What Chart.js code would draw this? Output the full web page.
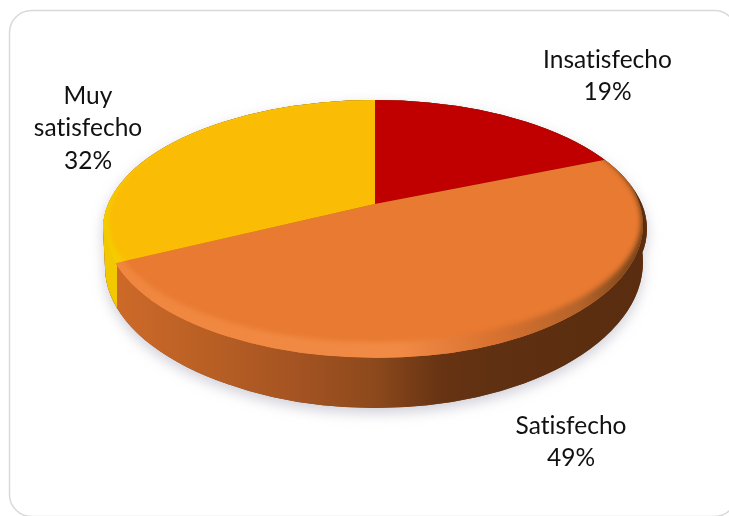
<!DOCTYPE html>
<html><head><meta charset="utf-8">
<script src="https://cdn.jsdelivr.net/npm/chart.js@4"></script>
<style>
html,body{margin:0;padding:0;background:#fff;overflow:hidden}
canvas{display:block}
</style></head>
<body><canvas id="c" width="729" height="516"></canvas>
<script>
const categories = ["Insatisfecho", "Satisfecho", "Muy satisfecho"];
const values = [19, 49, 32];
const sliceColors = ["#c00000", "#e97a31", "#fbbc05"];
const labelLines = [["Insatisfecho"], ["Satisfecho"], ["Muy", "satisfecho"]];

const TILT = 0.485;                                   // vertical squash of the pie plane
const FACE = {x: 375, y: 229, rx: 272, ry: 129};      // visible top face
const TRIM_R = {x: 368, y: 225, rx: 275, ry: 135};    // perspective trim, lower right
const TRIM_L = {x: 378, y: 229, rx: 272, ry: 129};    // perspective trim, lower left
const INNER = {x: 375, y: 221, rx: 266, ry: 121};     // flat part inside the bevel
const BASE = {x: 375, y: 262, rx: 268, ry: 146};      // bottom edge of the side wall
const BASE_L = {x: 382, y: 267, rx: 277, ry: 141};    // bottom edge, left half
const LABEL_POS = [{x: 607.5, y: 68}, {x: 571, y: 434}, {x: 88, y: 104}];
const LINE_H = 32.3;

function ell(ctx, e) { ctx.ellipse(e.x, e.y, e.rx, e.ry, 0, 0, Math.PI * 2); }
function clipFace(ctx) {
  ctx.beginPath(); ell(ctx, FACE); ctx.clip();
  ctx.beginPath(); ell(ctx, TRIM_R); ctx.rect(0, 0, 368, 516); ctx.clip();
  ctx.beginPath(); ell(ctx, TRIM_L); ctx.rect(0, 0, 729, 229); ctx.rect(378, 0, 351, 516); ctx.clip();
}
function wallPath() {
  const p = new Path2D();
  p.ellipse(BASE.x, BASE.y, BASE.rx, BASE.ry, 0, 0, Math.PI * 2);
  p.ellipse(FACE.x, FACE.y, FACE.rx, FACE.ry, 0, 0, Math.PI * 2);
  const left = new Path2D();
  left.ellipse(BASE_L.x, BASE_L.y, BASE_L.rx, BASE_L.ry, 0, Math.PI / 2, Math.PI);
  left.lineTo(FACE.x - FACE.rx, FACE.y);
  left.lineTo(BASE_L.x, FACE.y);
  left.closePath();
  p.addPath(left);
  return p;
}

function rayX(arcEl, angle) {
  // where a slice boundary meets the visible face
  const dx = Math.cos(angle), dy = TILT * Math.sin(angle);
  const ox = arcEl.x - FACE.x, oy = arcEl.y - FACE.y;
  const a = dx*dx/(FACE.rx*FACE.rx) + dy*dy/(FACE.ry*FACE.ry);
  const b = 2*(ox*dx/(FACE.rx*FACE.rx) + oy*dy/(FACE.ry*FACE.ry));
  const c = ox*ox/(FACE.rx*FACE.rx) + oy*oy/(FACE.ry*FACE.ry) - 1;
  const t = (-b + Math.sqrt(b*b - 4*a*c)) / (2*a);
  return arcEl.x + t*dx;
}

const framePlugin = {
  id: 'frame',
  beforeDraw(chart) {
    const ctx = chart.ctx;
    ctx.save();
    ctx.fillStyle = '#fff';
    ctx.fillRect(0, 0, 729, 516);
    ctx.beginPath();
    ctx.roundRect(9.5, 10.5, 727, 506, 22);
    ctx.strokeStyle = '#d9d9d9';
    ctx.lineWidth = 1.5;
    ctx.stroke();
    ctx.restore();
  }
};

const pie3d = {
  id: 'pie3d',
  beforeDatasetDraw(chart) {
    const ctx = chart.ctx;
    const arcs = chart.getDatasetMeta(0).data;
    const split = rayX(arcs[1], arcs[1].endAngle) + 4;
    const wall = wallPath();

    // soft shadow under the disc
    ctx.save();
    ctx.shadowColor = 'rgba(180,180,195,0.65)';
    ctx.shadowBlur = 13;
    ctx.shadowOffsetY = 5;
    ctx.fillStyle = '#7a4a20';
    ctx.fill(wall, 'nonzero');
    ctx.restore();

    // side wall: slice 2 on the right of the split, slice 3 on the left
    const g = ctx.createLinearGradient(103, 0, 645, 0);
    g.addColorStop(0, '#d06b2a');
    g.addColorStop(0.2, '#b85f24');
    g.addColorStop(0.36, '#a45322');
    g.addColorStop(0.5, '#8d491c');
    g.addColorStop(0.62, '#683413');
    g.addColorStop(0.72, '#5f3011');
    g.addColorStop(1, '#5a2d10');
    ctx.save();
    ctx.fillStyle = g;
    ctx.fill(wall, 'nonzero');
    ctx.beginPath(); ctx.rect(0, 0, split, 516); ctx.clip();
    ctx.fillStyle = '#f2c900';
    ctx.fill(wall, 'nonzero');
    ctx.restore();

    // library-drawn slices, flattened onto the pie plane
    ctx.save();
    clipFace(ctx);
    const a = arcs[0];
    ctx.translate(a.x, a.y);
    ctx.scale(1, TILT);
    ctx.translate(-a.x, -a.y);
  },
  afterDatasetDraw(chart) {
    const ctx = chart.ctx;
    ctx.restore();
    const arcs = chart.getDatasetMeta(0).data;

    const rim = [null, null, '#f4cc00'];
    const gO = ctx.createLinearGradient(103, 0, 645, 0);
    gO.addColorStop(0, '#f0873f');
    gO.addColorStop(0.55, '#f08a45');
    gO.addColorStop(0.72, '#d97230');
    gO.addColorStop(0.88, '#b4632a');
    gO.addColorStop(1, '#6f4018');
    rim[1] = gO;

    [1, 2].forEach(i => {
      const el = arcs[i];
      ctx.save();
      clipFace(ctx);
      ctx.save();
      ctx.translate(el.x, el.y); ctx.scale(1, TILT); ctx.translate(-el.x, -el.y);
      ctx.beginPath();
      ctx.moveTo(el.x, el.y);
      ctx.arc(el.x, el.y, el.outerRadius, el.startAngle, el.endAngle);
      ctx.closePath();
      ctx.restore();
      ctx.clip();
      ctx.filter = 'blur(2.5px)';
      ctx.fillStyle = rim[i];
      ctx.beginPath();
      ctx.rect(-20, -20, 769, 556);
      ell(ctx, INNER);
      ctx.fill('evenodd');
      ctx.restore();
    });
  },
  afterDraw(chart) {
    const ctx = chart.ctx;
    const total = values.reduce((s, v) => s + v, 0);
    ctx.save();
    ctx.fillStyle = '#111';
    ctx.font = '24.5px Lato';
    ctx.letterSpacing = '0.02px';
    ctx.textAlign = 'center';
    ctx.textBaseline = 'alphabetic';
    categories.forEach((name, i) => {
      const lines = labelLines[i].concat(Math.round(values[i] / total * 100) + '%');
      lines.forEach((t, j) => ctx.fillText(t, LABEL_POS[i].x, LABEL_POS[i].y + j * LINE_H));
    });
    ctx.restore();
  }
};

new Chart(document.getElementById('c'), {
  type: 'pie',
  data: {
    labels: categories,
    datasets: [{
      data: values,
      backgroundColor: sliceColors,
      borderWidth: 0,
      clip: false,
      radius: 480
    }]
  },
  options: {
    responsive: false,
    animation: false,
    devicePixelRatio: 1,
    layout: {padding: {left: 21, right: 0, top: 0, bottom: 108}},
    plugins: {legend: {display: false}, tooltip: {enabled: false}, title: {display: false}}
  },
  plugins: [framePlugin, pie3d]
});
</script>
</body></html>
